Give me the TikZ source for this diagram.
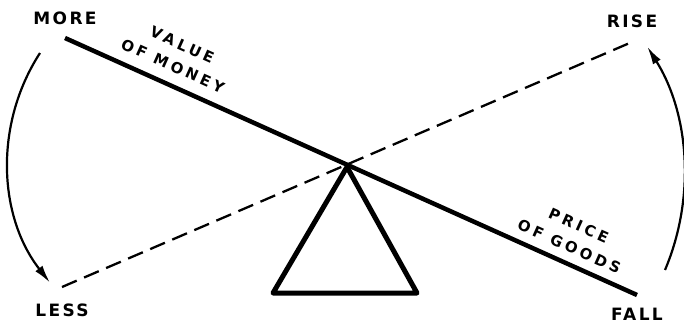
\documentclass[tikz,border=0pt]{standalone}
\usepackage{fontspec}
\newfontfamily\signfont[LetterSpace=14]{DejaVu Sans}
\newfontfamily\beamfont[LetterSpace=24]{DejaVu Sans}
\usetikzlibrary{arrows.meta,positioning}

\tikzset{
  endlabel/.style={font=\signfont\bfseries\fontsize{17}{17}\selectfont, inner sep=0pt},
  beamlabel/.style={font=\beamfont\bfseries\fontsize{15}{23}\selectfont, align=center, rotate=-24.2, inner sep=0pt},
  swing/.style={line width=2.2pt, -{Latex[length=18pt,width=9pt]}}
}

\begin{document}
\begin{tikzpicture}[x=1pt,y=-1pt]
        \useasboundingbox (0,0) rectangle (684,324);

        % ends of the two beams
        \coordinate (moneyhi) at (65,38);
        \coordinate (goodslo) at (637,295);
        \coordinate (moneylo) at (62,287);
        \coordinate (goodshi) at (632,42);
        \coordinate (pivot) at (347,167);
        \coordinate (baseL) at (273,293);
        \coordinate (baseR) at (417,293);

        \draw[line width=4.5pt] (moneyhi) -- (goodslo);
        \draw[line width=2.3pt, dash pattern=on 16pt off 8pt] (moneylo) -- (goodshi);
        \draw[line width=5pt, line join=round] (pivot) -- (baseL) -- (baseR) -- cycle;

        \node[endlabel] (more) at (65,18) {MORE};
        \node[endlabel] (less) at (62,310) {LESS};
        \node[endlabel] (rise) at (632,21) {RISE};
        \node[endlabel] (fall) at (637,314) {FALL};

        \node[beamlabel] (value) at (177.5,55.5) {VALUE\\OF MONEY};
        \node[beamlabel] (price) at (574,236) {PRICE\\OF GOODS};

        % swing arrows
        \coordinate (lefttop) at (40,53);
        \coordinate (righttop) at (665,270);
        \draw[swing] (lefttop) arc[start angle=213, end angle=142, radius=198];
        \draw[swing] (righttop) arc[start angle=22.9, end angle=-32, radius=243];
\end{tikzpicture}
\end{document}
